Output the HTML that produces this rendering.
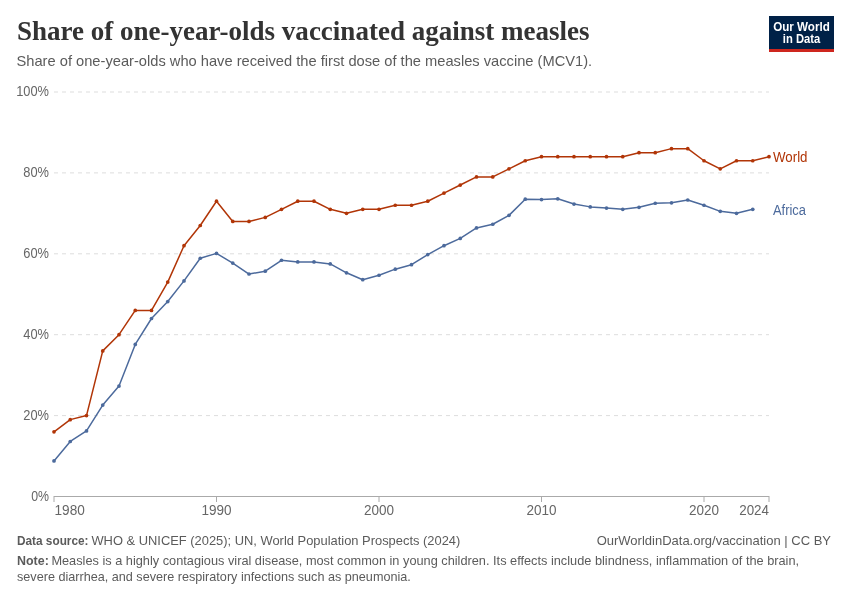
<!DOCTYPE html>
<html><head><meta charset="utf-8"><style>
html,body{margin:0;padding:0;background:#fff;}
svg{display:block;will-change:transform;}
text{font-family:"Liberation Sans",sans-serif;}
.title{font-family:"Liberation Serif",serif;font-weight:bold;font-size:27.5px;fill:#333;}
.sub{font-size:15px;fill:#5b5b5b;}
.ax{font-size:14px;fill:#666;}
.foot{font-size:13px;fill:#5b5b5b;}
.lbl{font-size:14px;}
.logo{font-weight:bold;font-size:12.5px;fill:#fff;}
</style></head><body>
<svg width="850" height="600" viewBox="0 0 850 600">
<rect width="850" height="600" fill="#fff"/>
<text x="17" y="40.2" class="title" text-anchor="start" textLength="572.5" lengthAdjust="spacingAndGlyphs">Share of one-year-olds vaccinated against measles</text>

<text x="16.5" y="66" class="sub" text-anchor="start" textLength="575.7" lengthAdjust="spacingAndGlyphs">Share of one-year-olds who have received the first dose of the measles vaccine (MCV1).</text>

<rect x="769" y="16" width="65" height="36" fill="#002147"/>
<rect x="769" y="49" width="65" height="3" fill="#ce261e"/>
<text x="801.5" y="31" class="logo" text-anchor="middle" textLength="56.6" lengthAdjust="spacingAndGlyphs">Our World</text>

<text x="801.5" y="43" class="logo" text-anchor="middle" textLength="37.4" lengthAdjust="spacingAndGlyphs">in Data</text>

<g stroke="#dddddd" stroke-width="1" stroke-dasharray="4,4">
<line x1="54" y1="415.60" x2="769" y2="415.60"/>
<line x1="54" y1="334.70" x2="769" y2="334.70"/>
<line x1="54" y1="253.80" x2="769" y2="253.80"/>
<line x1="54" y1="172.90" x2="769" y2="172.90"/>
<line x1="54" y1="92.00" x2="769" y2="92.00"/>
</g>
<line x1="54" y1="496.5" x2="769" y2="496.5" stroke="#aaa" stroke-width="1"/>
<g stroke="#aaa" stroke-width="1">
<line x1="54.0" y1="496" x2="54.0" y2="502"/>
<line x1="216.5" y1="496" x2="216.5" y2="502"/>
<line x1="379.0" y1="496" x2="379.0" y2="502"/>
<line x1="541.5" y1="496" x2="541.5" y2="502"/>
<line x1="704.0" y1="496" x2="704.0" y2="502"/>
<line x1="769.0" y1="496" x2="769.0" y2="502"/>
</g>
<text x="54.5" y="515" class="ax" text-anchor="start" textLength="30.3" lengthAdjust="spacingAndGlyphs">1980</text>
<text x="216.5" y="515" class="ax" text-anchor="middle" textLength="30.1" lengthAdjust="spacingAndGlyphs">1990</text>
<text x="379.0" y="515" class="ax" text-anchor="middle" textLength="30.1" lengthAdjust="spacingAndGlyphs">2000</text>
<text x="541.5" y="515" class="ax" text-anchor="middle" textLength="30.1" lengthAdjust="spacingAndGlyphs">2010</text>
<text x="704.0" y="515" class="ax" text-anchor="middle" textLength="30.1" lengthAdjust="spacingAndGlyphs">2020</text>
<text x="769.0" y="515" class="ax" text-anchor="end" textLength="29.8" lengthAdjust="spacingAndGlyphs">2024</text>

<text x="49" y="500.9" class="ax" text-anchor="end" textLength="17.8" lengthAdjust="spacingAndGlyphs">0%</text>
<text x="49" y="420.0" class="ax" text-anchor="end" textLength="25.7" lengthAdjust="spacingAndGlyphs">20%</text>
<text x="49" y="339.1" class="ax" text-anchor="end" textLength="25.7" lengthAdjust="spacingAndGlyphs">40%</text>
<text x="49" y="258.2" class="ax" text-anchor="end" textLength="25.7" lengthAdjust="spacingAndGlyphs">60%</text>
<text x="49" y="177.3" class="ax" text-anchor="end" textLength="25.7" lengthAdjust="spacingAndGlyphs">80%</text>
<text x="49" y="96.4" class="ax" text-anchor="end" textLength="32.8" lengthAdjust="spacingAndGlyphs">100%</text>

<g fill="#b13507"><polyline points="54.00,431.78 70.25,419.64 86.50,415.60 102.75,350.88 119.00,334.70 135.25,310.43 151.50,310.43 167.75,282.12 184.00,245.71 200.25,225.49 216.50,201.22 232.75,221.44 249.00,221.44 265.25,217.39 281.50,209.31 297.75,201.22 314.00,201.22 330.25,209.31 346.50,213.35 362.75,209.31 379.00,209.31 395.25,205.26 411.50,205.26 427.75,201.22 444.00,193.12 460.25,185.04 476.50,176.94 492.75,176.94 509.00,168.86 525.25,160.76 541.50,156.72 557.75,156.72 574.00,156.72 590.25,156.72 606.50,156.72 622.75,156.72 639.00,152.68 655.25,152.68 671.50,148.63 687.75,148.63 704.00,160.76 720.25,168.86 736.50,160.76 752.75,160.76 769.00,156.72" fill="none" stroke="#b13507" stroke-width="1.5" stroke-linejoin="round"/>
<circle cx="54.00" cy="431.78" r="1.85"/><circle cx="70.25" cy="419.64" r="1.85"/><circle cx="86.50" cy="415.60" r="1.85"/><circle cx="102.75" cy="350.88" r="1.85"/><circle cx="119.00" cy="334.70" r="1.85"/><circle cx="135.25" cy="310.43" r="1.85"/><circle cx="151.50" cy="310.43" r="1.85"/><circle cx="167.75" cy="282.12" r="1.85"/><circle cx="184.00" cy="245.71" r="1.85"/><circle cx="200.25" cy="225.49" r="1.85"/><circle cx="216.50" cy="201.22" r="1.85"/><circle cx="232.75" cy="221.44" r="1.85"/><circle cx="249.00" cy="221.44" r="1.85"/><circle cx="265.25" cy="217.39" r="1.85"/><circle cx="281.50" cy="209.31" r="1.85"/><circle cx="297.75" cy="201.22" r="1.85"/><circle cx="314.00" cy="201.22" r="1.85"/><circle cx="330.25" cy="209.31" r="1.85"/><circle cx="346.50" cy="213.35" r="1.85"/><circle cx="362.75" cy="209.31" r="1.85"/><circle cx="379.00" cy="209.31" r="1.85"/><circle cx="395.25" cy="205.26" r="1.85"/><circle cx="411.50" cy="205.26" r="1.85"/><circle cx="427.75" cy="201.22" r="1.85"/><circle cx="444.00" cy="193.12" r="1.85"/><circle cx="460.25" cy="185.04" r="1.85"/><circle cx="476.50" cy="176.94" r="1.85"/><circle cx="492.75" cy="176.94" r="1.85"/><circle cx="509.00" cy="168.86" r="1.85"/><circle cx="525.25" cy="160.76" r="1.85"/><circle cx="541.50" cy="156.72" r="1.85"/><circle cx="557.75" cy="156.72" r="1.85"/><circle cx="574.00" cy="156.72" r="1.85"/><circle cx="590.25" cy="156.72" r="1.85"/><circle cx="606.50" cy="156.72" r="1.85"/><circle cx="622.75" cy="156.72" r="1.85"/><circle cx="639.00" cy="152.68" r="1.85"/><circle cx="655.25" cy="152.68" r="1.85"/><circle cx="671.50" cy="148.63" r="1.85"/><circle cx="687.75" cy="148.63" r="1.85"/><circle cx="704.00" cy="160.76" r="1.85"/><circle cx="720.25" cy="168.86" r="1.85"/><circle cx="736.50" cy="160.76" r="1.85"/><circle cx="752.75" cy="160.76" r="1.85"/><circle cx="769.00" cy="156.72" r="1.85"/></g>

<g fill="#4c6a9c"><polyline points="54.00,460.90 70.25,441.49 86.50,430.97 102.75,405.08 119.00,386.07 135.25,344.41 151.50,318.52 167.75,301.53 184.00,280.90 200.25,258.25 216.50,253.40 232.75,263.10 249.00,274.02 265.25,271.19 281.50,260.27 297.75,261.89 314.00,261.89 330.25,263.91 346.50,272.81 362.75,279.69 379.00,275.24 395.25,269.17 411.50,264.72 427.75,254.61 444.00,245.71 460.25,238.43 476.50,227.91 492.75,224.27 509.00,215.37 525.25,199.19 541.50,199.60 557.75,198.79 574.00,204.05 590.25,206.88 606.50,208.09 622.75,209.31 639.00,207.28 655.25,203.24 671.50,202.83 687.75,200.00 704.00,205.26 720.25,211.33 736.50,213.35 752.75,209.31" fill="none" stroke="#4c6a9c" stroke-width="1.5" stroke-linejoin="round"/>
<circle cx="54.00" cy="460.90" r="1.85"/><circle cx="70.25" cy="441.49" r="1.85"/><circle cx="86.50" cy="430.97" r="1.85"/><circle cx="102.75" cy="405.08" r="1.85"/><circle cx="119.00" cy="386.07" r="1.85"/><circle cx="135.25" cy="344.41" r="1.85"/><circle cx="151.50" cy="318.52" r="1.85"/><circle cx="167.75" cy="301.53" r="1.85"/><circle cx="184.00" cy="280.90" r="1.85"/><circle cx="200.25" cy="258.25" r="1.85"/><circle cx="216.50" cy="253.40" r="1.85"/><circle cx="232.75" cy="263.10" r="1.85"/><circle cx="249.00" cy="274.02" r="1.85"/><circle cx="265.25" cy="271.19" r="1.85"/><circle cx="281.50" cy="260.27" r="1.85"/><circle cx="297.75" cy="261.89" r="1.85"/><circle cx="314.00" cy="261.89" r="1.85"/><circle cx="330.25" cy="263.91" r="1.85"/><circle cx="346.50" cy="272.81" r="1.85"/><circle cx="362.75" cy="279.69" r="1.85"/><circle cx="379.00" cy="275.24" r="1.85"/><circle cx="395.25" cy="269.17" r="1.85"/><circle cx="411.50" cy="264.72" r="1.85"/><circle cx="427.75" cy="254.61" r="1.85"/><circle cx="444.00" cy="245.71" r="1.85"/><circle cx="460.25" cy="238.43" r="1.85"/><circle cx="476.50" cy="227.91" r="1.85"/><circle cx="492.75" cy="224.27" r="1.85"/><circle cx="509.00" cy="215.37" r="1.85"/><circle cx="525.25" cy="199.19" r="1.85"/><circle cx="541.50" cy="199.60" r="1.85"/><circle cx="557.75" cy="198.79" r="1.85"/><circle cx="574.00" cy="204.05" r="1.85"/><circle cx="590.25" cy="206.88" r="1.85"/><circle cx="606.50" cy="208.09" r="1.85"/><circle cx="622.75" cy="209.31" r="1.85"/><circle cx="639.00" cy="207.28" r="1.85"/><circle cx="655.25" cy="203.24" r="1.85"/><circle cx="671.50" cy="202.83" r="1.85"/><circle cx="687.75" cy="200.00" r="1.85"/><circle cx="704.00" cy="205.26" r="1.85"/><circle cx="720.25" cy="211.33" r="1.85"/><circle cx="736.50" cy="213.35" r="1.85"/><circle cx="752.75" cy="209.31" r="1.85"/></g>

<text x="773" y="161.8" class="lbl" text-anchor="start" textLength="34.5" lengthAdjust="spacingAndGlyphs" fill="#b13507">World</text>

<text x="773" y="214.5" class="lbl" text-anchor="start" textLength="33" lengthAdjust="spacingAndGlyphs" fill="#4c6a9c">Africa</text>

<text x="17" y="545" class="foot" text-anchor="start" textLength="71.5" lengthAdjust="spacingAndGlyphs" font-weight="bold">Data source:</text>
<text x="91.4" y="545" class="foot" text-anchor="start" textLength="368.9" lengthAdjust="spacingAndGlyphs">WHO &amp; UNICEF (2025); UN, World Population Prospects (2024)</text>

<text x="831" y="545" class="foot" text-anchor="end">OurWorldinData.org/vaccination | CC BY</text>

<text x="17" y="565.3" class="foot" text-anchor="start" textLength="31.8" lengthAdjust="spacingAndGlyphs" font-weight="bold">Note:</text>
<text x="51.4" y="565.3" class="foot" text-anchor="start" textLength="747.7" lengthAdjust="spacingAndGlyphs">Measles is a highly contagious viral disease, most common in young children. Its effects include blindness, inflammation of the brain,</text>

<text x="17" y="580.5" class="foot" text-anchor="start" textLength="393.8" lengthAdjust="spacingAndGlyphs">severe diarrhea, and severe respiratory infections such as pneumonia.</text>

</svg>
</body></html>
